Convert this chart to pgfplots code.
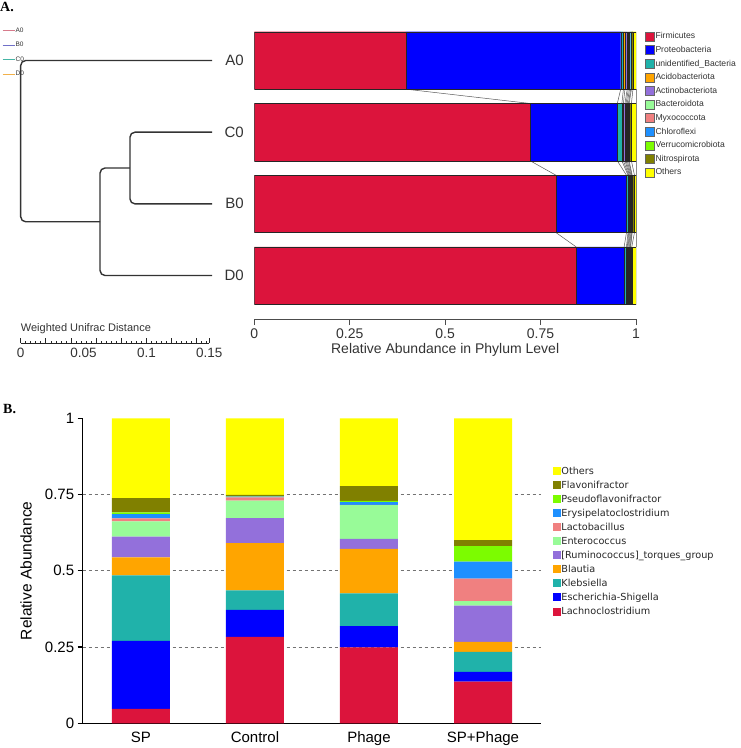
\documentclass[border=0pt]{standalone}
\usepackage{fontspec}
\setmainfont{Liberation Sans}
\newfontfamily\serifbf{Liberation Serif}
\newfontfamily\legB{DejaVu Sans}
\usepackage{pgfplots}
\usepackage{pgfplotstable}
\pgfplotsset{compat=1.18}

\definecolor{cFirm}{HTML}{DC143C}
\definecolor{cProt}{HTML}{0000FF}
\definecolor{cUnid}{HTML}{20B2AA}
\definecolor{cAcid}{HTML}{FFA500}
\definecolor{cActi}{HTML}{9370DB}
\definecolor{cBact}{HTML}{98FB98}
\definecolor{cMyxo}{HTML}{F08080}
\definecolor{cChlo}{HTML}{1E90FF}
\definecolor{cVerr}{HTML}{7CFC00}
\definecolor{cNitr}{HTML}{808000}
\definecolor{cOthe}{HTML}{FFFF00}
\definecolor{cA}{HTML}{D77B8C}
\definecolor{cB}{HTML}{7070C8}
\definecolor{cC}{HTML}{45B5A5}
\definecolor{cD}{HTML}{F2B14A}
\definecolor{txt}{HTML}{333333}

\pgfplotstableread{
y Firm Prot Unid Acid Acti Bact Myxo Chlo Verr Nitr Othe
4 0.397 0.563 0.007 0.004 0.006 0.003 0.003 0.003 0.002 0.004 0.008
3 0.723 0.228 0.012 0.004 0.004 0.003 0.003 0.003 0.002 0.006 0.012
2 0.790 0.185 0.004 0.002 0.002 0.002 0.002 0.002 0.001 0.006 0.004
1 0.843 0.126 0.006 0.002 0.002 0.002 0.002 0.002 0.001 0.003 0.011
}\phylum

\pgfplotstableread{
x Lach Esch Kleb Blau Rumi Ente Lact Erys Pseu Flav Othe
0 0.047 0.223 0.215 0.059 0.068 0.050 0.010 0.014 0.006 0.046 0.262
1 0.283 0.089 0.064 0.155 0.082 0.057 0.011 0.002 0.001 0.005 0.251
2 0.249 0.070 0.107 0.146 0.033 0.110 0.001 0.009 0.004 0.049 0.222
3 0.137 0.032 0.065 0.033 0.119 0.015 0.073 0.056 0.051 0.020 0.399
}\genus

\begin{document}
\begin{tikzpicture}
\path[use as bounding box] (0pt,0pt) rectangle (740pt,-748pt);

\node[anchor=north west, inner sep=0pt, font=\serifbf\bfseries\fontsize{14}{14}\selectfont] at (0pt,-2pt) {A.};
\node[anchor=north west, inner sep=0pt, font=\serifbf\bfseries\fontsize{14}{14}\selectfont] at (3pt,-404pt) {B.};

% ---------- dendrogram ----------
\begin{axis}[at={(20.7pt,-343.24pt)}, anchor=south west, scale only axis,
  width=188.6pt, height=318.57pt, xmin=0, xmax=0.15, ymin=0.055, ymax=4.5,
  clip=false, axis x line*=bottom, axis y line=none,
  axis line style={-, black!85, line width=0.8pt},
  tick align=inside, major tick length=5pt, minor tick length=2.5pt,
  xtick={0,0.02,0.04,0.06,0.08,0.1,0.12,0.14,0.15},
  xticklabels={,,,,,,,,},
  minor xtick={0,0.004,...,0.15},
  tick style={black!85, line width=0.7pt},
  extra x ticks={0,0.05,0.1,0.15}, extra x tick labels={0,0.05,0.1,0.15},
  extra x tick style={major tick length=0pt, xticklabel style={font=\fontsize{13.5}{13.5}\selectfont, text=txt, yshift=-1pt}},
  xlabel={Weighted Unifrac Distance},
  xlabel style={at={(axis description cs:0,0)}, anchor=south west, xshift=-1pt, yshift=8pt, font=\fontsize{11}{11}\selectfont, text=txt, inner sep=1pt},
  legend style={at={(-0.1007,0.9933)}, anchor=north west, draw=none, fill=none, inner sep=0pt,
    font=\fontsize{6.5}{6.5}\selectfont, row sep=7.6pt, nodes={inner sep=0.5pt, text=txt}},
  legend cell align=left,
  legend image code/.code={\draw[#1] (0pt,0pt) -- (12pt,0pt);},
]
\addplot[forget plot, black!80, line width=1.4pt, rounded corners=5pt] coordinates {(0.1522,4) (0,4) (0,1.75) (0.0631,1.75)};
\addplot[forget plot, black!80, line width=1.4pt, rounded corners=5pt] coordinates {(0.0869,2.5) (0.0631,2.5) (0.0631,1) (0.1522,1)};
\addplot[forget plot, black!80, line width=1.4pt, rounded corners=5pt] coordinates {(0.1522,3) (0.0869,3) (0.0869,2) (0.1522,2)};
\addlegendimage{cA, line width=1.2pt}\addlegendentry{A0}
\addlegendimage{cB, line width=1.2pt}\addlegendentry{B0}
\addlegendimage{cC, line width=1.2pt}\addlegendentry{C0}
\addlegendimage{cD, line width=1.2pt}\addlegendentry{D0}
\end{axis}

% ---------- connectors between bars ----------
\begin{axis}[at={(254.3pt,-319pt)}, anchor=south west, scale only axis,
  width=381.7pt, height=294.35pt, xmin=0, xmax=1, ymin=0.393, ymax=4.5,
  hide axis, clip=false]
\addplot[black!65, line width=0.5pt] coordinates {(0.397,3.6) (0.723,3.4) (0.723,2.6) (0.790,2.4) (0.790,1.6) (0.843,1.4)};
\addplot[black!65, line width=0.5pt] coordinates {(0.960,3.6) (0.951,3.4) (0.951,2.6) (0.975,2.4) (0.975,1.6) (0.969,1.4)};
\addplot[black!65, line width=0.5pt] coordinates {(0.967,3.6) (0.963,3.4) (0.963,2.6) (0.979,2.4) (0.979,1.6) (0.975,1.4)};
\addplot[black!65, line width=0.5pt] coordinates {(0.971,3.6) (0.967,3.4) (0.967,2.6) (0.981,2.4) (0.981,1.6) (0.977,1.4)};
\addplot[black!65, line width=0.5pt] coordinates {(0.977,3.6) (0.971,3.4) (0.971,2.6) (0.983,2.4) (0.983,1.6) (0.979,1.4)};
\addplot[black!65, line width=0.5pt] coordinates {(0.980,3.6) (0.974,3.4) (0.974,2.6) (0.985,2.4) (0.985,1.6) (0.981,1.4)};
\addplot[black!65, line width=0.5pt] coordinates {(0.983,3.6) (0.977,3.4) (0.977,2.6) (0.987,2.4) (0.987,1.6) (0.983,1.4)};
\addplot[black!65, line width=0.5pt] coordinates {(0.986,3.6) (0.980,3.4) (0.980,2.6) (0.989,2.4) (0.989,1.6) (0.985,1.4)};
\addplot[black!65, line width=0.5pt] coordinates {(0.988,3.6) (0.982,3.4) (0.982,2.6) (0.990,2.4) (0.990,1.6) (0.986,1.4)};
\addplot[black!65, line width=0.5pt] coordinates {(0.992,3.6) (0.988,3.4) (0.988,2.6) (0.996,2.4) (0.996,1.6) (0.989,1.4)};
\addplot[black!45, line width=0.5pt] coordinates {(1,3.6) (1,1.4)};
\end{axis}

% ---------- phylum stacked bars ----------
\begin{axis}[at={(254.3pt,-319pt)}, anchor=south west, scale only axis,
  width=381.7pt, height=294.35pt, xmin=0, xmax=1, ymin=0.393, ymax=4.5,
  xbar stacked, bar width=57.5pt,
  axis x line*=bottom, axis y line*=left,
  axis line style={-},
  x axis line style={black!70, line width=0.9pt},
  y axis line style={draw=none},
  /pgf/number format/assume math mode=true,
  xtick={0,0.25,0.5,0.75,1}, tick align=outside, major tick length=6pt,
  xtick style={black!70, line width=0.9pt},
  xticklabel style={font=\fontsize{14}{14}\selectfont, text=txt},
  ytick={1,2,3,4}, yticklabels={D0,B0,C0,A0}, ytick style={draw=none},
  yticklabel style={font=\fontsize{15}{15}\selectfont, text=txt, xshift=-1pt},
  xlabel={Relative Abundance in Phylum Level},
  xlabel style={font=\fontsize{14}{14}\selectfont, text=txt, at={(axis description cs:0.5,0)}, anchor=center, yshift=-31pt},
  legend style={at={(1.0236,0.9767)}, anchor=north west, draw=none, fill=none, inner sep=0pt,
    font=\fontsize{8.6}{8.6}\selectfont, row sep=3.8pt, nodes={inner sep=0.5pt, text=txt}},
  legend cell align=left,
  legend image code/.code={\draw[#1, draw=black!60, line width=0.8pt] (0pt,-4.5pt) rectangle (9pt,4.5pt);},
  every axis plot/.append style={draw=black!85, line width=0.3pt},
]
\addplot[fill=cFirm] table[x=Firm, y=y] {\phylum}; \addlegendentry{Firmicutes}
\addplot[fill=cProt] table[x=Prot, y=y] {\phylum}; \addlegendentry{Proteobacteria}
\addplot[fill=cUnid] table[x=Unid, y=y] {\phylum}; \addlegendentry{unidentified\_Bacteria}
\addplot[fill=cAcid] table[x=Acid, y=y] {\phylum}; \addlegendentry{Acidobacteriota}
\addplot[fill=cActi] table[x=Acti, y=y] {\phylum}; \addlegendentry{Actinobacteriota}
\addplot[fill=cBact] table[x=Bact, y=y] {\phylum}; \addlegendentry{Bacteroidota}
\addplot[fill=cMyxo] table[x=Myxo, y=y] {\phylum}; \addlegendentry{Myxococcota}
\addplot[fill=cChlo] table[x=Chlo, y=y] {\phylum}; \addlegendentry{Chloroflexi}
\addplot[fill=cVerr] table[x=Verr, y=y] {\phylum}; \addlegendentry{Verrucomicrobiota}
\addplot[fill=cNitr] table[x=Nitr, y=y] {\phylum}; \addlegendentry{Nitrospirota}
\addplot[fill=cOthe] table[x=Othe, y=y] {\phylum}; \addlegendentry{Others}
\end{axis}

% ---------- genus stacked bars ----------
\begin{axis}[at={(82.7pt,-723.3pt)}, anchor=south west, scale only axis,
  width=458pt, height=305pt, xmin=-0.511, xmax=3.506, ymin=0, ymax=1,
  ybar stacked, bar width=58pt,
  axis x line*=bottom, axis y line*=left,
  axis line style={-, black, line width=1.5pt},
  /pgf/number format/assume math mode=true,
  xtick={0,1,2,3}, xticklabels={SP,Control,Phage,SP+Phage},
  xtick style={draw=none},
  xticklabel style={font=\fontsize{15}{15}\selectfont, yshift=0pt},
  ytick={0,0.25,0.5,0.75,1}, tick align=outside, major tick length=5pt,
  ytick style={black, line width=1.2pt},
  yticklabel style={font=\fontsize{15}{15}\selectfont},
  extra y ticks={0.25,0.5,0.75}, extra y tick labels={},
  extra y tick style={grid=major, ytick style={draw=none}},
  major grid style={dashed, black!55, line width=0.7pt},
  ylabel={Relative Abundance},
  ylabel style={font=\fontsize{15.5}{15.5}\selectfont, at={(axis description cs:-0.1238,0.5)}, anchor=center},
  legend style={at={(1.0262,0.8436)}, anchor=north west, draw=none, fill=none, inner sep=0pt,
    font=\legB\fontsize{9.7}{9.7}\selectfont, row sep=4.2pt, nodes={inner sep=0.5pt, text=black!85}},
  legend cell align=left, reverse legend,
  legend image code/.code={\fill[#1] (0pt,-4pt) rectangle (8pt,4pt);},
  every axis plot/.append style={draw=none},
]
\addplot[fill=cFirm] table[x=x, y=Lach] {\genus}; \addlegendentry{Lachnoclostridium}
\addplot[fill=cProt] table[x=x, y=Esch] {\genus}; \addlegendentry{Escherichia-Shigella}
\addplot[fill=cUnid] table[x=x, y=Kleb] {\genus}; \addlegendentry{Klebsiella}
\addplot[fill=cAcid] table[x=x, y=Blau] {\genus}; \addlegendentry{Blautia}
\addplot[fill=cActi] table[x=x, y=Rumi] {\genus}; \addlegendentry{[Ruminococcus]\_torques\_group}
\addplot[fill=cBact] table[x=x, y=Ente] {\genus}; \addlegendentry{Enterococcus}
\addplot[fill=cMyxo] table[x=x, y=Lact] {\genus}; \addlegendentry{Lactobacillus}
\addplot[fill=cChlo] table[x=x, y=Erys] {\genus}; \addlegendentry{Erysipelatoclostridium}
\addplot[fill=cVerr] table[x=x, y=Pseu] {\genus}; \addlegendentry{Pseudoflavonifractor}
\addplot[fill=cNitr] table[x=x, y=Flav] {\genus}; \addlegendentry{Flavonifractor}
\addplot[fill=cOthe] table[x=x, y=Othe] {\genus}; \addlegendentry{Others}
\end{axis}
\end{tikzpicture}
\end{document}
